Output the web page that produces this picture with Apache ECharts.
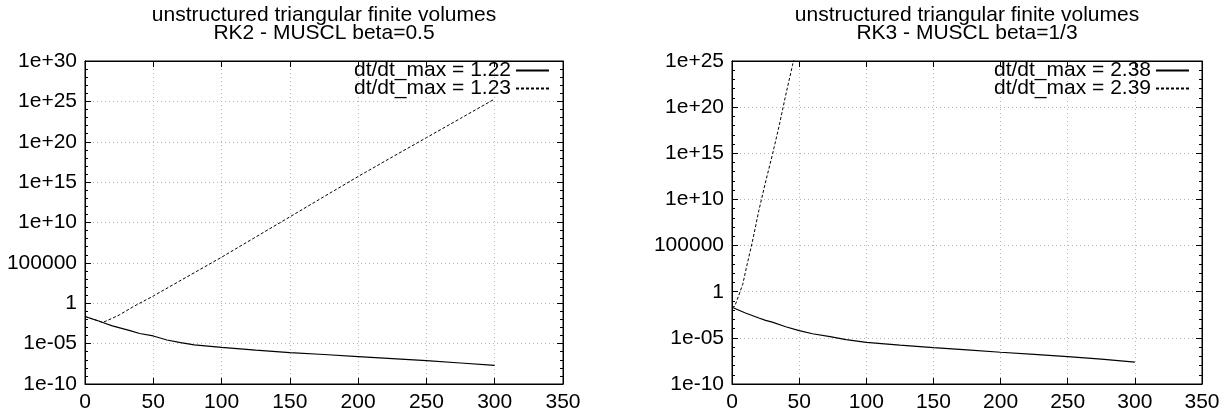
<!DOCTYPE html>
<html>
<head>
<meta charset="utf-8">
<script src="https://cdn.jsdelivr.net/npm/echarts@6/dist/echarts.min.js"></script>
<style>
html,body{margin:0;padding:0;background:#fff;}
#chart{width:1229px;height:415px;}
</style>
</head>
<body>
<div id="chart"></div>
<script>
// ---- data ----
var titleLeft = 'unstructured triangular finite volumes\nRK2 - MUSCL beta=0.5';
var titleRight = 'unstructured triangular finite volumes\nRK3 - MUSCL beta=1/3';
var legendLeft = ['dt/dt_max = 1.22', 'dt/dt_max = 1.23'];
var legendRight = ['dt/dt_max = 2.38', 'dt/dt_max = 2.39'];
var yTickLabelsLeft = ['1e-10', '1e-05', '1', '100000', '1e+10', '1e+15', '1e+20', '1e+25', '1e+30'];
var yTickLabelsRight = ['1e-10', '1e-05', '1', '100000', '1e+10', '1e+15', '1e+20', '1e+25'];

// left panel, dt/dt_max = 1.22 (solid)
var left122X = [0, 5, 10, 13, 20, 33, 40, 50, 60, 70, 80, 100, 125, 150, 175, 200, 225, 250, 275, 300];
var left122Y = [2.3e-2, 1.2e-2, 6.3e-3, 4.2e-3, 1.6e-3, 4.0e-4, 1.8e-4, 8.9e-5, 2.8e-5, 1.3e-5, 7.1e-6,
                3.5e-6, 1.6e-6, 7.9e-7, 4.5e-7, 2.5e-7, 1.4e-7, 7.9e-8, 4.0e-8, 2.0e-8];
// left panel, dt/dt_max = 1.23 (dashed)
var left123X = [0, 5, 10, 13, 20, 25, 30, 35, 40, 50, 75, 100, 125, 150, 175, 200, 225, 250, 275, 300];
var left123Y = [2.3e-2, 1.2e-2, 6.3e-3, 4.2e-3, 1.4e-2, 3.5e-2, 0.11, 0.35, 1, 7.9, 2.0e3, 5.0e5, 1.6e8,
                5.0e10, 1.6e13, 5.0e15, 1.3e18, 3.2e20, 7.9e22, 2.0e25];
// right panel, dt/dt_max = 2.38 (solid)
var right238X = [0, 10, 20, 25, 30, 40, 50, 60, 73, 85, 100, 125, 150, 175, 200, 225, 250, 275, 300];
var right238Y = [2.1e-2, 5.0e-3, 1.4e-3, 7.9e-4, 5.0e-4, 1.6e-4, 6.0e-5, 2.8e-5, 1.35e-5, 6.3e-6, 3.2e-6,
                 1.6e-6, 8.7e-7, 5.0e-7, 2.75e-7, 1.6e-7, 9.3e-8, 5.0e-8, 2.3e-8];
// right panel, dt/dt_max = 2.39 (dashed)
var right239X = [0, 2, 5, 8, 11, 15, 20, 25, 30, 35, 40, 45, 50];
var right239Y = [2.1e-2, 2.5e-2, 0.4, 6.3, 630, 2.0e5, 6.3e8, 7.9e11, 6.3e14, 7.9e17, 2.0e21, 3.2e24, 5.0e27];

function pairs(xs, ys) { return xs.map(function (x, i) { return [x, ys[i]]; }); }

var FONT = 'Liberation Sans';
var FS = 21;

function xAxisDef(gridIndex, pos, showLabel) {
  return {
    type: 'value', gridIndex: gridIndex, position: pos, min: 0, max: 350, interval: 50,
    axisLine: { show: true, onZero: false, lineStyle: { color: '#000', width: 1 } },
    axisTick: { show: true, inside: true, length: 6, lineStyle: { color: '#000' } },
    axisLabel: { show: showLabel, color: '#000', fontFamily: FONT, fontSize: FS, margin: 8 },
    splitLine: { show: showLabel, lineStyle: { color: '#b4b4b4', type: [1, 3], width: 1 } }
  };
}
// log-scale y axis that carries the labels and grid lines
function yLogAxis(gridIndex, maxV, labels) {
  return {
    type: 'log', logBase: 10, gridIndex: gridIndex, position: 'left', min: 1e-10, max: maxV, interval: 5,
    axisLine: { show: true, onZero: false, lineStyle: { color: '#000', width: 1 } },
    axisTick: { show: false },
    axisLabel: {
      show: true, color: '#000', fontFamily: FONT, fontSize: FS, margin: 8,
      formatter: function (v) {
        var idx = Math.round((Math.log10(v) + 10) / 5);
        return labels[idx] !== undefined ? labels[idx] : '';
      }
    },
    splitLine: { show: true, lineStyle: { color: '#b4b4b4', type: [1, 3], width: 1 } }
  };
}
// tick-only axes (decades as units) giving major ticks every 5 decades and minor ticks every decade
function yTickAxis(gridIndex, pos, maxExp) {
  return {
    type: 'value', gridIndex: gridIndex, position: pos, min: -10, max: maxExp, interval: 5,
    axisLine: { show: true, onZero: false, lineStyle: { color: '#000', width: 1 } },
    axisTick: { show: true, inside: true, length: 6, lineStyle: { color: '#000' } },
    minorTick: { show: true, splitNumber: 5, length: 3, lineStyle: { color: '#000' } },
    axisLabel: { show: false },
    splitLine: { show: false }
  };
}

var solid = { color: '#000', width: 1.2, type: 'solid' };
var dashed = { color: '#000', width: 1, type: [3, 2] };

function legendDef(names, right) {
  return {
    data: names, orient: 'vertical', align: 'right', right: right, top: 60, padding: 0,
    itemWidth: 33, itemHeight: 16, itemGap: -3, selectedMode: false,
    itemStyle: { opacity: 0, color: 'rgba(0,0,0,0)', borderWidth: 0 },
    textStyle: { fontFamily: FONT, fontSize: FS, color: '#000', lineHeight: 16 }
  };
}

var option = {
  animation: false,
  backgroundColor: '#fff',
  title: [
    { text: titleLeft, left: 324, top: 6, textAlign: 'center', padding: 0,
      textStyle: { fontFamily: FONT, fontSize: FS, fontWeight: 'normal', color: '#000', lineHeight: 18 } },
    { text: titleRight, left: 967, top: 6, textAlign: 'center', padding: 0,
      textStyle: { fontFamily: FONT, fontSize: FS, fontWeight: 'normal', color: '#000', lineHeight: 18 } }
  ],
  legend: [legendDef(legendLeft, 679), legendDef(legendRight, 39)],
  grid: [
    { left: 85, right: 666, top: 61, bottom: 31, show: true, borderColor: '#000', borderWidth: 1, backgroundColor: 'transparent' },
    { left: 732, right: 27, top: 61, bottom: 31, show: true, borderColor: '#000', borderWidth: 1, backgroundColor: 'transparent' }
  ],
  xAxis: [
    xAxisDef(0, 'bottom', true), xAxisDef(0, 'top', false),
    xAxisDef(1, 'bottom', true), xAxisDef(1, 'top', false)
  ],
  yAxis: [
    yLogAxis(0, 1e30, yTickLabelsLeft), yTickAxis(0, 'left', 30), yTickAxis(0, 'right', 30),
    yLogAxis(1, 1e25, yTickLabelsRight), yTickAxis(1, 'left', 25), yTickAxis(1, 'right', 25)
  ],
  series: [
    { name: legendLeft[0], type: 'line', xAxisIndex: 0, yAxisIndex: 0, symbol: 'none', lineStyle: solid, itemStyle: { color: '#000' }, data: pairs(left122X, left122Y) },
    { name: legendLeft[1], type: 'line', xAxisIndex: 0, yAxisIndex: 0, symbol: 'none', lineStyle: dashed, itemStyle: { color: '#000' }, data: pairs(left123X, left123Y) },
    { name: legendRight[0], type: 'line', xAxisIndex: 2, yAxisIndex: 3, symbol: 'none', lineStyle: solid, itemStyle: { color: '#000' }, data: pairs(right238X, right238Y) },
    { name: legendRight[1], type: 'line', xAxisIndex: 2, yAxisIndex: 3, symbol: 'none', lineStyle: dashed, itemStyle: { color: '#000' }, clip: true, data: pairs(right239X, right239Y) }
  ]
};

var chart = echarts.init(document.getElementById('chart'), null, { renderer: 'canvas' });
chart.setOption(option);
</script>
</body>
</html>
